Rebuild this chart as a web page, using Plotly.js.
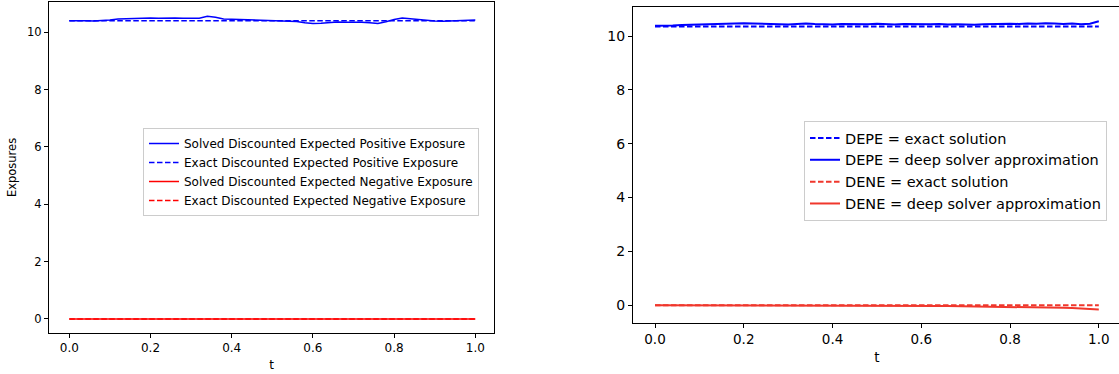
<!DOCTYPE html>
<html>
<head>
<meta charset="utf-8">
<script src="https://cdn.plot.ly/plotly-3.0.1.min.js"></script>
<style>
html,body{margin:0;padding:0;overflow:hidden;background:#fff;}
#chart{width:1128px;height:374px;}
</style>
</head>
<body>
<div id="chart"></div>
<script>
// time grid
const t = [0.00,0.02,0.04,0.06,0.08,0.10,0.12,0.14,0.16,0.18,0.20,0.22,0.24,0.26,0.28,0.30,0.32,0.34,0.36,0.38,0.40,0.42,0.44,0.46,0.48,0.50,0.52,0.54,0.56,0.58,0.60,0.62,0.64,0.66,0.68,0.70,0.72,0.74,0.76,0.78,0.80,0.82,0.84,0.86,0.88,0.90,0.92,0.94,0.96,0.98,1.00];

// Left panel
const solvedEPE = [10.40,10.41,10.40,10.39,10.40,10.42,10.46,10.47,10.48,10.47,10.49,10.48,10.49,10.49,10.48,10.49,10.48,10.55,10.52,10.46,10.45,10.44,10.45,10.43,10.42,10.41,10.40,10.38,10.37,10.33,10.30,10.31,10.33,10.35,10.34,10.35,10.34,10.33,10.30,10.36,10.44,10.49,10.46,10.45,10.41,10.39,10.38,10.39,10.41,10.40,10.42];
const exactEPE  = [10.40,10.40,10.40,10.40,10.40,10.40,10.40,10.40,10.40,10.40,10.40,10.40,10.40,10.40,10.40,10.40,10.40,10.40,10.40,10.40,10.40,10.40,10.40,10.40,10.40,10.40,10.40,10.40,10.40,10.40,10.40,10.40,10.40,10.40,10.40,10.40,10.40,10.40,10.40,10.40,10.40,10.40,10.40,10.40,10.40,10.40,10.40,10.40,10.40,10.40,10.40];
const solvedENE = [0,0,0,0,0,0,0,0,0,0,0,0,0,0,0,0,0,0,0,0,0,0,0,0,0,0,0,0,0,0,0,0,0,0,0,0,0,0,0,0,0,0,0,0,0,0,0,0,0,0,0];
const exactENE  = [0,0,0,0,0,0,0,0,0,0,0,0,0,0,0,0,0,0,0,0,0,0,0,0,0,0,0,0,0,0,0,0,0,0,0,0,0,0,0,0,0,0,0,0,0,0,0,0,0,0,0];

// Right panel
const depeExact = [10.36,10.36,10.36,10.36,10.36,10.36,10.36,10.36,10.36,10.36,10.36,10.36,10.36,10.36,10.36,10.36,10.36,10.36,10.36,10.36,10.36,10.36,10.36,10.36,10.36,10.36,10.36,10.36,10.36,10.36,10.36,10.36,10.36,10.36,10.36,10.36,10.36,10.36,10.36,10.36,10.36,10.36,10.36,10.36,10.36,10.36,10.36,10.36,10.36,10.36,10.36];
const depeDeep  = [10.38,10.38,10.39,10.41,10.42,10.43,10.45,10.46,10.47,10.48,10.48,10.47,10.46,10.46,10.44,10.43,10.45,10.47,10.45,10.44,10.43,10.45,10.44,10.43,10.44,10.46,10.44,10.43,10.45,10.44,10.43,10.44,10.45,10.43,10.44,10.43,10.42,10.44,10.45,10.44,10.46,10.45,10.47,10.46,10.48,10.47,10.45,10.47,10.44,10.46,10.55];
const deneExact = [0,0,0,0,0,0,0,0,0,0,0,0,0,0,0,0,0,0,0,0,0,0,0,0,0,0,0,0,0,0,0,0,0,0,0,0,0,0,0,0,0,0,0,0,0,0,0,0,0,0,0];
const deneDeep  = [0,0,0,0,0,0,0,0,0,0,0,0,0,0,0,0,0,0,0,0,0,-0.002,-0.004,-0.006,-0.008,-0.010,-0.012,-0.014,-0.016,-0.019,-0.022,-0.025,-0.028,-0.031,-0.034,-0.037,-0.040,-0.044,-0.048,-0.052,-0.056,-0.061,-0.066,-0.072,-0.079,-0.087,-0.096,-0.106,-0.118,-0.132,-0.155];

const xTicks = [0,0.2,0.4,0.6,0.8,1.0];
const yTicks = [0,2,4,6,8,10];

const FONT = 'DejaVu Sans, sans-serif';
const BLUE = '#0000ff', RED = '#ff0000', RED2 = '#f0372c';
const DASH = '5.5px,2.5px';

const traces = [
  {x:t, y:solvedEPE, name:'Solved Discounted Expected Positive Exposure', mode:'lines', line:{color:BLUE,width:1.5}, xaxis:'x', yaxis:'y', legend:'legend'},
  {x:t, y:exactEPE, name:'Exact Discounted Expected Positive Exposure', mode:'lines', line:{color:BLUE,width:1.5,dash:DASH}, xaxis:'x', yaxis:'y', legend:'legend'},
  {x:t, y:solvedENE, name:'Solved Discounted Expected Negative Exposure', mode:'lines', line:{color:RED,width:1.5}, xaxis:'x', yaxis:'y', legend:'legend'},
  {x:t, y:exactENE, name:'Exact Discounted Expected Negative Exposure', mode:'lines', line:{color:RED,width:1.5,dash:DASH}, xaxis:'x', yaxis:'y', legend:'legend'},
  {x:t, y:depeExact, name:'DEPE = exact solution', mode:'lines', line:{color:BLUE,width:2,dash:DASH}, xaxis:'x2', yaxis:'y2', legend:'legend2'},
  {x:t, y:depeDeep, name:'DEPE = deep solver approximation', mode:'lines', line:{color:BLUE,width:2}, xaxis:'x2', yaxis:'y2', legend:'legend2'},
  {x:t, y:deneExact, name:'DENE = exact solution', mode:'lines', line:{color:RED2,width:2,dash:DASH}, xaxis:'x2', yaxis:'y2', legend:'legend2'},
  {x:t, y:deneDeep, name:'DENE = deep solver approximation', mode:'lines', line:{color:RED2,width:2}, xaxis:'x2', yaxis:'y2', legend:'legend2'}
];

const W = 1128, H = 374;
const axCommon = {showgrid:false, zeroline:false, showline:true, linecolor:'#000', linewidth:1, ticks:'outside', ticklen:4, tickcolor:'#000', tickwidth:1, automargin:false};

const layout = {
  width:W, height:H,
  margin:{l:0,r:0,t:0,b:0},
  paper_bgcolor:'#fff', plot_bgcolor:'#fff',
  font:{family:FONT, color:'#000'},
  xaxis: Object.assign({}, axCommon, {domain:[49/W,494/W], range:[-0.05,1.046], tickvals:xTicks, tickformat:'.1f', tickfont:{size:12}, mirror:true, anchor:'y', title:{text:'t', font:{size:12}, standoff:6}}),
  yaxis: Object.assign({}, axCommon, {domain:[1-333/H,1-2/H], range:[-0.49,11.05], tickvals:yTicks, tickfont:{size:11.5}, mirror:true, anchor:'x', title:{text:'Exposures', font:{size:11.5}, standoff:8}}),
  xaxis2: Object.assign({}, axCommon, {domain:[633/W,1121/W], range:[-0.0496,1.05], tickvals:xTicks, tickformat:'.1f', tickfont:{size:13.5}, mirror:true, anchor:'y2', title:{text:'t', font:{size:13.5}, standoff:6}}),
  yaxis2: Object.assign({}, axCommon, {domain:[1-323/H,1-7/H], range:[-0.66,11.08], tickvals:yTicks, tickfont:{size:14}, mirror:false, anchor:'x2'}),
  legend:{x:143/W, y:1-128/H, xanchor:'left', yanchor:'top', bordercolor:'#cccccc', borderwidth:1, bgcolor:'rgba(255,255,255,0.8)', font:{size:12, family:FONT, color:'#000'}, tracegroupgap:0, itemwidth:30},
  legend2:{x:804/W, y:1-121/H, xanchor:'left', yanchor:'top', bordercolor:'#cccccc', borderwidth:1, bgcolor:'rgba(255,255,255,0.8)', font:{size:14.5, family:FONT, color:'#000'}, tracegroupgap:0, itemwidth:30},
  showlegend:true
};

Plotly.newPlot('chart', traces, layout, {displayModeBar:false, staticPlot:true});
</script>
</body>
</html>
